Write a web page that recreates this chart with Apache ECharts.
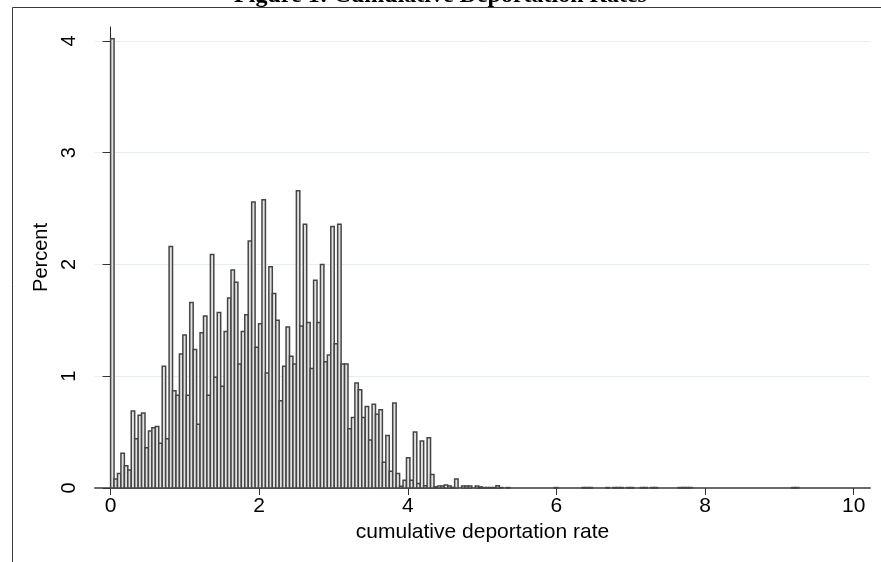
<!DOCTYPE html>
<html>
<head>
<meta charset="utf-8">
<script src="https://cdn.jsdelivr.net/npm/echarts@6/dist/echarts.min.js"></script>
<style>
html,body{margin:0;padding:0;background:#fff;}
#chart{width:881px;height:562px;}
</style>
</head>
<body>
<div id="chart"></div>
<script>
// Histogram: 200 bins starting at 0
const binStart = 0;
const binWidth = 0.0463;
// percent in each bin (index 0..199)
const percent = [
  4.02, 0.08, 0.13, 0.31, 0.20, 0.16, 0.69, 0.44, 0.65, 0.67,
  0.36, 0.51, 0.54, 0.55, 0.40, 1.09, 0.44, 2.16, 0.87, 0.83,
  1.20, 1.37, 0.83, 1.66, 1.24, 0.57, 1.39, 1.54, 0.83, 2.09,
  0.99, 1.57, 0.91, 1.40, 1.70, 1.95, 1.84, 1.11, 1.40, 1.55,
  2.21, 2.56, 1.26, 1.47, 2.58, 1.03, 1.98, 1.74, 1.50, 0.78,
  1.09, 1.44, 1.18, 1.11, 2.66, 1.45, 2.36, 1.48, 1.07, 1.86,
  1.48, 2.00, 1.13, 1.19, 2.34, 1.29, 2.36, 1.11, 1.11, 0.53,
  0.63, 0.94, 0.88, 0.63, 0.73, 0.43, 0.75, 0.66, 0.70, 0.23,
  0.47, 0.15, 0.76, 0.13, 0.015, 0.07, 0.27, 0.07, 0.50, 0.04,
  0.42, 0.02, 0.45, 0.12, 0.01, 0.018, 0.018, 0.027, 0.018, 0.005,
  0.08, 0, 0.018, 0.018, 0.018, 0, 0.018, 0.01, 0.004, 0.004,
  0.004, 0.004, 0.02, 0.004, 0, 0.004, 0, 0, 0, 0,
  0, 0, 0, 0, 0, 0, 0, 0, 0, 0.004,
  0, 0, 0, 0, 0, 0, 0, 0.004, 0.004, 0.004,
  0, 0, 0, 0, 0.004, 0, 0.004, 0.004, 0.004, 0,
  0.004, 0.004, 0, 0, 0.004, 0.004, 0, 0.004, 0.004, 0,
  0, 0, 0, 0, 0, 0.004, 0.004, 0.004, 0.004, 0,
  0, 0, 0, 0, 0, 0, 0, 0, 0, 0,
  0, 0, 0, 0, 0, 0, 0, 0, 0, 0,
  0, 0, 0, 0, 0, 0, 0, 0, 0.004, 0.004
];
const xTicks = [0, 2, 4, 6, 8, 10];
const yTicks = [0, 1, 2, 3, 4];
const titleText = 'Figure 1: Cumulative Deportation Rates';
const xName = 'cumulative deportation rate';
const yName = 'Percent';

const barData = [];
percent.forEach((v, i) => {
  if (v > 0) {
    const left = binStart + i * binWidth;
    barData.push([left, left + binWidth, v]);
  }
});

const chart = echarts.init(document.getElementById('chart'), null, {renderer: 'canvas'});
const option = {
  backgroundColor: '#ffffff',
  animation: false,
  title: {
    text: titleText,
    left: 'center',
    top: -21,
    textStyle: {fontFamily: 'Liberation Serif', fontWeight: 'bold', fontSize: 24, color: '#000'}
  },
  graphic: [{
    type: 'polyline',
    shape: {points: [[12.5, 562], [12.5, 7.5], [881, 7.5]]},
    style: {stroke: '#3a3a3a', lineWidth: 1, fill: null},
    silent: true
  }],
  grid: {left: 95, right: 11, top: 27, bottom: 74, containLabel: false},
  xAxis: {
    type: 'value',
    min: -0.21,
    max: 10.22,
    name: xName,
    nameLocation: 'middle',
    nameGap: 30,
    nameTextStyle: {fontFamily: 'Liberation Sans', fontSize: 21, color: '#000'},
    axisLine: {show: true, onZero: false, lineStyle: {color: '#6a6a6a', width: 2}},
    axisTick: {show: true, length: 7, customValues: xTicks, lineStyle: {color: '#333', width: 1}},
    axisLabel: {customValues: xTicks, margin: 8, fontFamily: 'Liberation Sans', fontSize: 21, color: '#000'},
    splitLine: {show: false}
  },
  yAxis: {
    type: 'value',
    min: 0,
    max: 4.125,
    interval: 1,
    name: yName,
    nameLocation: 'middle',
    nameGap: 43,
    nameTextStyle: {fontFamily: 'Liberation Sans', fontSize: 20, color: '#000'},
    axisLine: {show: true, lineStyle: {color: '#222', width: 1}},
    axisTick: {show: true, length: 8, customValues: yTicks, lineStyle: {color: '#333', width: 1}},
    axisLabel: {rotate: 90, customValues: yTicks, margin: 16, fontFamily: 'Liberation Sans', fontSize: 20, color: '#000'},
    splitLine: {show: true, lineStyle: {color: '#e6eef1', width: 1}}
  },
  series: [{
    type: 'custom',
    data: barData,
    encode: {x: [0, 1], y: 2},
    renderItem: function (params, api) {
      const p0 = api.coord([api.value(0), api.value(2)]);
      const p1 = api.coord([api.value(1), 0]);
      return {
        type: 'rect',
        shape: {x: p0[0], y: p0[1], width: p1[0] - p0[0], height: p1[1] - p0[1]},
        style: {fill: '#e2e2e2', stroke: '#454545', lineWidth: 1.5}
      };
    }
  }]
};
chart.setOption(option);
</script>
</body>
</html>
